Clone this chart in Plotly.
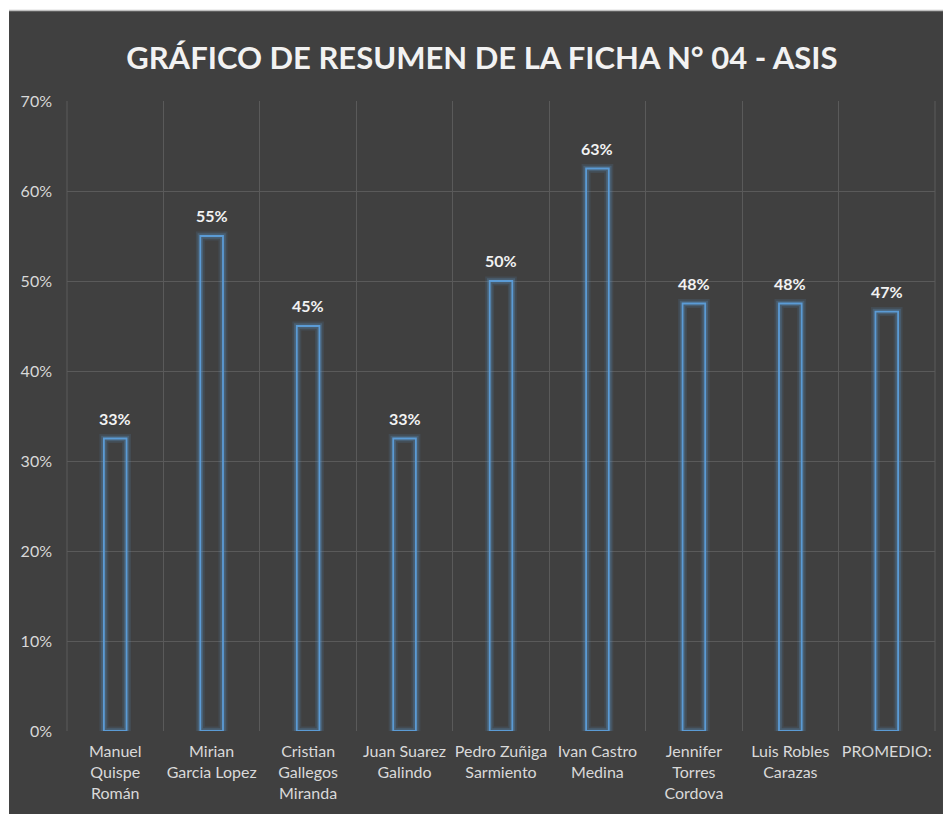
import plotly.graph_objects as go

categories = ["Manuel<br>Quispe<br>Román", "Mirian<br>Garcia Lopez", "Cristian<br>Gallegos<br>Miranda",
              "Juan Suarez<br>Galindo", "Pedro Zuñiga<br>Sarmiento", "Ivan Castro<br>Medina",
              "Jennifer<br>Torres<br>Cordova", "Luis Robles<br>Carazas", "PROMEDIO:"]
values = [0.325, 0.55, 0.45, 0.325, 0.50, 0.625, 0.475, 0.475, 0.466]
value_labels = ["33%", "55%", "45%", "33%", "50%", "63%", "48%", "48%", "47%"]
y_ticks = [0, 0.1, 0.2, 0.3, 0.4, 0.5, 0.6, 0.7]
y_tick_text = ["0%", "10%", "20%", "30%", "40%", "50%", "60%", "70%"]

FONT = "Lato, Liberation Sans, sans-serif"
BG = "#404040"
GRID = "#5A5A5A"
BLUE = "#5B9BD5"

fig = go.Figure()
# glow layers
for w, a in [(9, 0.12), (5.5, 0.25)]:
    fig.add_trace(go.Bar(x=categories, y=values, width=0.235,
                         marker=dict(color="rgba(0,0,0,0)", line=dict(color=f"rgba(91,155,213,{a})", width=w)),
                         hoverinfo="skip", showlegend=False))
fig.add_trace(go.Bar(x=categories, y=values, width=0.235,
                     marker=dict(color="rgba(0,0,0,0)", line=dict(color=BLUE, width=1.8)),
                     showlegend=False))

for c, v, t in zip(categories, values, value_labels):
    fig.add_annotation(x=c, y=v, text=f"<b>{t}</b>", showarrow=False, yanchor="bottom",
                       yshift=9, font=dict(family=FONT, size=16, color="#F2F2F2"))

# dark chart area with light top edge
fig.add_shape(type="rect", xref="paper", yref="paper", x0=-0.0668, x1=1.0092, y0=-0.14, y1=1.1435,
              fillcolor=BG, line=dict(width=0), layer="below")
fig.add_shape(type="line", xref="paper", yref="paper", x0=-0.0668, x1=1.0092, y0=1.1435, y1=1.1435,
              line=dict(color="#BFBFBF", width=1.5), layer="below")
# outer vertical gridlines at the plot edges
for xe in (0, 1):
    fig.add_shape(type="line", xref="paper", yref="paper", x0=xe, x1=xe, y0=0, y1=1,
                  line=dict(color=GRID, width=1), layer="below")

fig.update_layout(
    width=943, height=814,
    paper_bgcolor="white", plot_bgcolor=BG,
    margin=dict(l=67, r=8, t=101, b=83),
    barmode="overlay",
    title=dict(text="<b>GRÁFICO DE RESUMEN DE LA FICHA N° 04 - ASIS</b>", x=0.511, xanchor="center",
               y=0.929, yanchor="middle", font=dict(family=FONT, size=31, color="#F2F2F2")),
    font=dict(family=FONT, color="#D9D9D9"),
)
fig.update_xaxes(type="category", showgrid=True, gridcolor=GRID, gridwidth=1, tickson="boundaries",
                 ticks="", showline=False, zeroline=False, ticklabelstandoff=9,
                 tickfont=dict(family=FONT, size=16, color="#D9D9D9"), tickangle=0)
fig.update_yaxes(range=[0, 0.7], tickvals=y_ticks, ticktext=y_tick_text, showgrid=True, gridcolor=GRID,
                 gridwidth=1, zeroline=False, showline=False, ticks="", ticklabelstandoff=14,
                 tickfont=dict(family=FONT, size=16, color="#D9D9D9"))

fig.write_html("out.html", config={"displayModeBar": False},
               post_script="document.body.style.margin='0';document.body.style.overflow='hidden';")
